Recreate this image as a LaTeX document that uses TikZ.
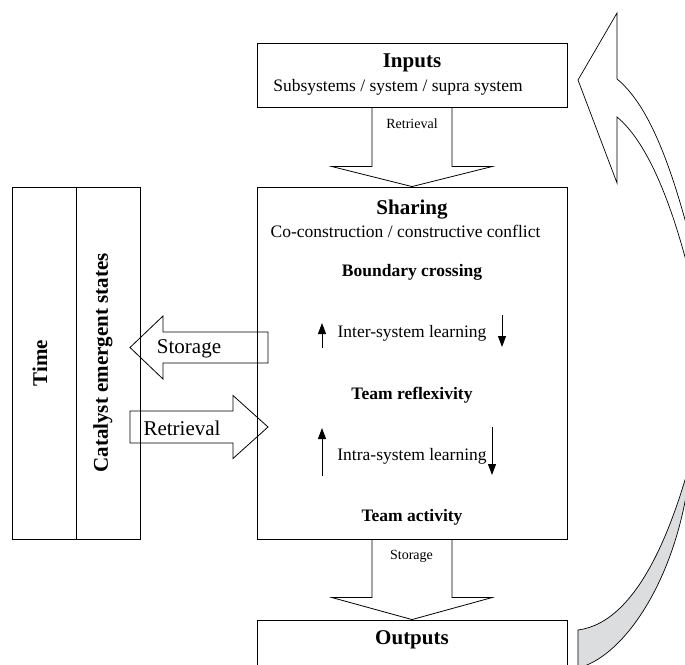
\documentclass[tikz,border=0pt]{standalone}
\usepackage{fontspec}
\setmainfont{Liberation Serif}
\usetikzlibrary{calc,arrows.meta}
\definecolor{ribbongray}{RGB}{220,221,223}
\begin{document}
\begin{tikzpicture}[x=1pt,y=-1pt,
  box/.style={draw, line width=0.9pt, inner sep=0pt},
  ttl/.style={font=\fontsize{21}{24}\selectfont\bfseries, inner sep=0pt},
  body/.style={font=\fontsize{17.5}{20}\selectfont, inner sep=0pt},
  bodyb/.style={font=\fontsize{17.5}{20}\selectfont\bfseries, inner sep=0pt},
  small/.style={font=\fontsize{14}{16}\selectfont, inner sep=0pt},
  big/.style={font=\fontsize{21}{24}\selectfont, inner sep=0pt},
  blockarrow/.style={draw, line width=0.8pt, line join=miter},
  thinarrow/.style={line width=1pt, -{Triangle[width=8pt,length=11pt]}},
  ribbon/.style={draw, line width=0.7pt, line join=miter},
]
\useasboundingbox (0,0) rectangle (685,664);
\begin{scope}
\clip (0,0) rectangle (685,664);
% boxes
\node[box, minimum width=310pt, minimum height=64pt] (inputs) at (412,75) {};
\node[box, minimum width=310pt, minimum height=352pt] (sharing) at (412,363) {};
\node[box, minimum width=310pt, minimum height=70pt] (outputs) at (412,655) {};
\node[box, minimum width=64pt, minimum height=352pt] (time) at (44,363) {};
\node[box, minimum width=64pt, minimum height=352pt] (catalyst) at (108,363) {};

% texts
\node[ttl] (inT) at (412,63) {Inputs};
\node[body] (inS) at (398,87) {Subsystems / system / supra system};
\node[ttl] (shT) at (412,209.5) {Sharing};
\node[body] (shS) at (405.5,231) {Co-construction / constructive conflict};
\node[bodyb] (bc) at (412,272) {Boundary crossing};
\node[body] (isl) at (412,333) {Inter-system learning};
\node[bodyb] (tr) at (412,395) {Team reflexivity};
\node[body] (asl) at (412,456) {Intra-system learning};
\node[bodyb] (ta) at (412,517) {Team activity};
\node[ttl] (outT) at (412,640) {Outputs};
\node[ttl, rotate=90] (timeT) at (40,363) {Time};
\node[ttl, rotate=90] (catT) at (103,363) {Catalyst emergent states};

% down block arrows
\draw[blockarrow] ($(inputs.south)+(-40,0)$) -- ($(sharing.north)+(-40,-20)$) -- ($(sharing.north)+(-80,-20)$) -- (sharing.north) -- ($(sharing.north)+(80,-20)$) -- ($(sharing.north)+(40,-20)$) -- ($(inputs.south)+(40,0)$);
\node[small] (retTop) at (412,124) {Retrieval};
\draw[blockarrow] ($(sharing.south)+(-40,0)$) -- ($(outputs.north)+(-40,-22)$) -- ($(outputs.north)+(-80,-22)$) -- (outputs.north) -- ($(outputs.north)+(80,-22)$) -- ($(outputs.north)+(40,-22)$) -- ($(sharing.south)+(40,0)$);
\node[small] (stoBot) at (411.5,556) {Storage};

% horizontal block arrows
\coordinate (stoR) at (268,347.5);
\coordinate (stoL) at (130,347.5);
\draw[blockarrow] ($(stoR)+(0,-15.5)$) -- ($(stoL)+(33,-15.5)$) -- ($(stoL)+(33,-31.5)$) -- (stoL) -- ($(stoL)+(33,31.5)$) -- ($(stoL)+(33,15.5)$) -- ($(stoR)+(0,15.5)$) -- cycle;
\node[big] (stoLab) at (189,349) {Storage};
\coordinate (retL) at (130,427);
\coordinate (retR) at (268,427);
\draw[blockarrow] ($(retL)+(0,-16)$) -- ($(retR)+(-35,-16)$) -- ($(retR)+(-35,-31.5)$) -- (retR) -- ($(retR)+(-35,31.5)$) -- ($(retR)+(-35,16)$) -- ($(retL)+(0,16)$) -- cycle;
\node[big] (retLab) at (182,428) {Retrieval};

% small arrows
\coordinate (u1a) at (322,348); \coordinate (u1b) at (322,323);
\coordinate (d1a) at (502,315); \coordinate (d1b) at (502,347);
\coordinate (u2a) at (322,476); \coordinate (u2b) at (322,428);
\coordinate (d2a) at (492,427); \coordinate (d2b) at (492,475);
\draw[thinarrow] (u1a) -- (u1b);
\draw[thinarrow] (d1a) -- (d1b);
\draw[thinarrow] (u2a) -- (u2b);
\draw[thinarrow] (d2a) -- (d2b);

% curved return arrow
\draw[ribbon, fill=white] (617,117) -- (617,183) -- (578,80) -- (617,13) -- (617,79)
  .. controls (655,110) and (680,190) .. (705,300) -- (760,300) -- (760,330) -- (700,320)
  .. controls (675,200) and (645,140) .. (617,117) -- cycle;
\draw[ribbon, fill=ribbongray] (578,630) .. controls (640,622) and (680,520) .. (705,400)
  -- (760,400) -- (760,440) -- (692,440)
  .. controls (688,560) and (630,655) .. (578,668) -- cycle;
\end{scope}
\end{tikzpicture}
\end{document}
